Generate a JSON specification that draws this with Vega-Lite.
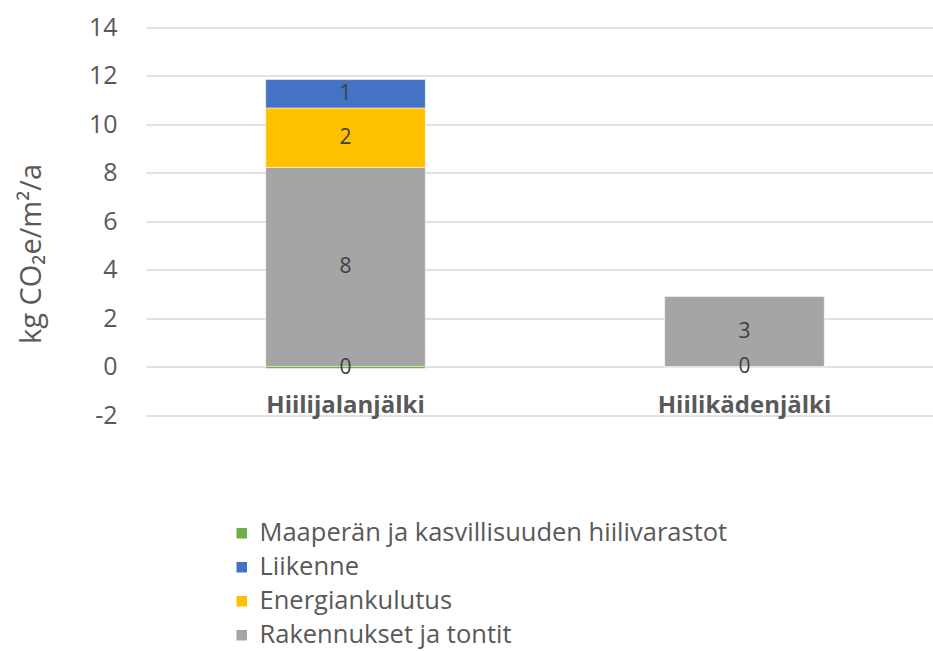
{
  "$schema": "https://vega.github.io/schema/vega-lite/v6.json",
  "width": 798,
  "height": 387.5,
  "autosize": {"type": "none"},
  "padding": {"left": 146, "top": 27.5, "right": 0, "bottom": 236},
  "background": "white",
  "config": {"view": {"stroke": null}, "font": "Open Sans"},
  "data": {
    "values": [
      {"cat": "Hiilijalanjälki", "series": "Rakennukset ja tontit", "k": 1, "value": 8.22},
      {"cat": "Hiilijalanjälki", "series": "Energiankulutus", "k": 2, "value": 2.46},
      {"cat": "Hiilijalanjälki", "series": "Liikenne", "k": 3, "value": 1.17},
      {"cat": "Hiilijalanjälki", "series": "Maaperän ja kasvillisuuden hiilivarastot", "k": 4, "value": -0.08},
      {"cat": "Hiilikädenjälki", "series": "Rakennukset ja tontit", "k": 1, "value": 2.89},
      {"cat": "Hiilikädenjälki", "series": "Maaperän ja kasvillisuuden hiilivarastot", "k": 4, "value": -0.02}
    ]
  },
  "transform": [
    {"stack": "value", "groupby": ["cat"], "sort": [{"field": "k", "order": "ascending"}], "as": ["v0", "v1"]},
    {"calculate": "(datum.v0 + datum.v1) / 2", "as": "mid"}
  ],
  "encoding": {
    "x": {
      "field": "cat",
      "type": "nominal",
      "sort": null,
      "scale": {"paddingInner": 0.6, "paddingOuter": 0.3},
      "axis": {
        "title": null,
        "labelAngle": 0,
        "labelFontSize": 24,
        "labelFontWeight": "bold",
        "labelColor": "#595959",
        "labelPadding": -22,
        "domain": false,
        "ticks": false,
        "grid": false
      }
    }
  },
  "layer": [
    {
      "mark": {"type": "bar", "stroke": "#ffffff", "strokeWidth": 0.5},
      "encoding": {
        "y": {
          "field": "v1",
          "type": "quantitative",
          "scale": {"domain": [-2, 14], "nice": false, "zero": false},
          "axis": {
            "title": "kg CO₂e/m²/a",
            "titleFontSize": 29,
            "titleFontWeight": "normal",
            "titleColor": "#595959",
            "titleX": -115,
            "titleY": 226,
            "titleAlign": "center",
            "titleBaseline": "middle",
            "titleAngle": -90,
            "values": [-2, 0, 2, 4, 6, 8, 10, 12, 14],
            "labelExpr": "'' + datum.value",
            "labelFontSize": 25,
            "labelColor": "#595959",
            "labelPadding": 29,
            "ticks": false,
            "domain": false,
            "gridColor": "#D9D9D9",
            "gridWidth": 1.5
          }
        },
        "y2": {"field": "v0"},
        "color": {
          "field": "series",
          "type": "nominal",
          "scale": {
            "domain": ["Maaperän ja kasvillisuuden hiilivarastot", "Liikenne", "Energiankulutus", "Rakennukset ja tontit"],
            "range": ["#70AD47", "#4472C4", "#FFC000", "#A5A5A5"]
          },
          "legend": {
            "title": null,
            "orient": "none",
            "legendX": 83,
            "legendY": 493,
            "symbolType": "square",
            "symbolSize": 110,
            "symbolStrokeWidth": 0,
            "labelFontSize": 25.5,
            "labelColor": "#595959",
            "labelOffset": 5,
            "rowPadding": 7,
            "labelLimit": 700
          }
        }
      }
    },
    {
      "mark": {"type": "text", "fontSize": 21, "color": "#404040", "baseline": "middle"},
      "encoding": {
        "y": {"field": "mid", "type": "quantitative"},
        "text": {"field": "value", "type": "quantitative", "format": ".0f"}
      }
    }
  ]
}
